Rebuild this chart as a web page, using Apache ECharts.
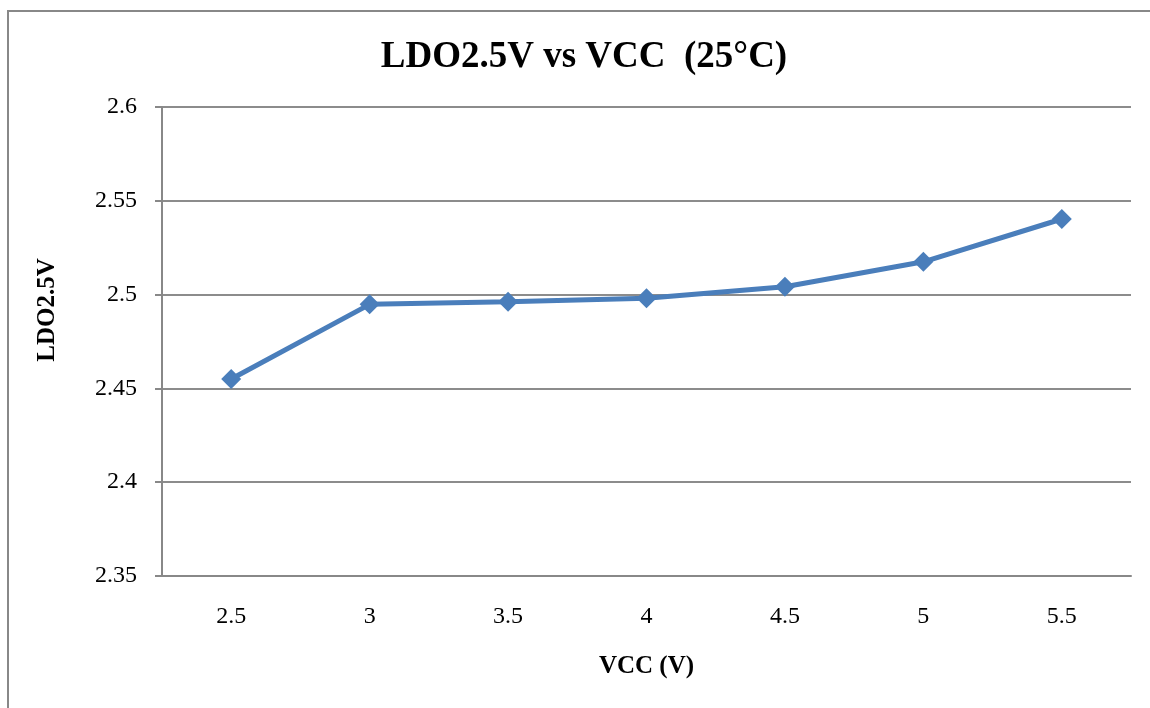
<!DOCTYPE html>
<html>
<head>
<meta charset="utf-8">
<script src="https://cdn.jsdelivr.net/npm/echarts@6/dist/echarts.min.js"></script>
<style>
  html, body { margin: 0; padding: 0; background: #fff; }
  #chart { width: 1150px; height: 708px; }
</style>
</head>
<body>
<div id="chart"></div>
<script>
// VCC (V) categories and measured LDO output
var vcc = ["2.5", "3", "3.5", "4", "4.5", "5", "5.5"];
var ldo = [2.455, 2.4948, 2.4962, 2.498, 2.5042, 2.5175, 2.5403];

var font = "'Liberation Serif', 'Times New Roman', serif";

var chart = echarts.init(document.getElementById("chart"));
chart.setOption({
  backgroundColor: "#fff",
  animation: false,
  title: {
    text: "LDO2.5V vs VCC  (25°C)",
    left: 579,
    textAlign: "center",
    top: 34,
    textStyle: { fontFamily: font, fontWeight: "bold", fontSize: 37, color: "#000" }
  },
  graphic: [
    {
      type: "rect",
      silent: true,
      shape: { x: 8, y: 11, width: 1200, height: 800 },
      style: { fill: "none", stroke: "#888", lineWidth: 2 }
    },
    {
      // y axis title sits above the plot centre in the original
      type: "text",
      x: 48,
      y: 310,
      rotation: Math.PI / 2,
      style: {
        text: "LDO2.5V",
        fontFamily: font,
        fontWeight: "bold",
        fontSize: 25,
        fill: "#000",
        align: "center",
        verticalAlign: "middle"
      }
    }
  ],
  grid: { left: 162, right: 19, top: 107, bottom: 132 },
  xAxis: {
    type: "category",
    data: vcc,
    boundaryGap: true,
    name: "VCC (V)",
    nameLocation: "middle",
    nameGap: 78,
    nameTextStyle: { fontFamily: font, fontWeight: "bold", fontSize: 25, color: "#000" },
    axisLine: { lineStyle: { color: "#888", width: 2 } },
    axisTick: { show: false },
    axisLabel: { fontFamily: font, fontSize: 24, color: "#000", margin: 29 }
  },
  yAxis: {
    type: "value",
    min: 2.35,
    max: 2.6,
    interval: 0.05,
    axisLine: { show: true, lineStyle: { color: "#888", width: 2 } },
    axisTick: { show: true, length: 7, lineStyle: { color: "#888", width: 2 } },
    axisLabel: {
      fontFamily: font, fontSize: 24, color: "#000", margin: 25,
      formatter: function (v) { return String(+v.toFixed(2)); }
    },
    splitLine: { lineStyle: { color: "#8c8c8c", width: 2 } }
  },
  series: [
    {
      type: "line",
      data: ldo,
      symbol: "diamond",
      symbolSize: 20,
      lineStyle: { color: "#4a7ebb", width: 5 },
      itemStyle: { color: "#4a7ebb" }
    }
  ]
});
</script>
</body>
</html>
